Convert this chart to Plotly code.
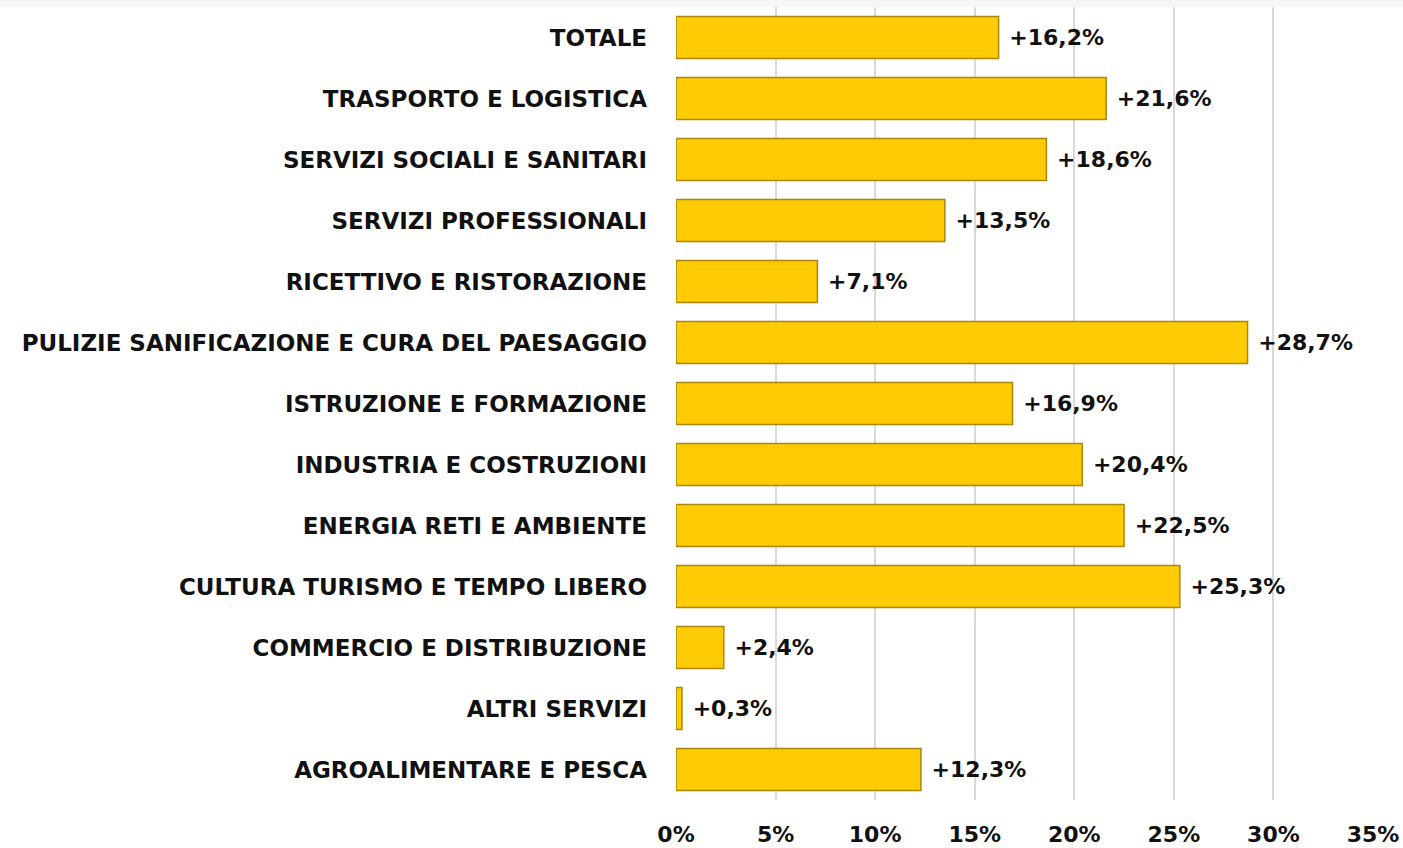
import plotly.graph_objects as go

# categories top to bottom as in the picture
categories = [
    "TOTALE",
    "TRASPORTO E LOGISTICA",
    "SERVIZI SOCIALI E SANITARI",
    "SERVIZI PROFESSIONALI",
    "RICETTIVO E RISTORAZIONE",
    "PULIZIE SANIFICAZIONE E CURA DEL PAESAGGIO",
    "ISTRUZIONE E FORMAZIONE",
    "INDUSTRIA E COSTRUZIONI",
    "ENERGIA RETI E AMBIENTE",
    "CULTURA TURISMO E TEMPO LIBERO",
    "COMMERCIO E DISTRIBUZIONE",
    "ALTRI SERVIZI",
    "AGROALIMENTARE E PESCA",
]
values = [16.2, 21.6, 18.6, 13.5, 7.1, 28.7, 16.9, 20.4, 22.5, 25.3, 2.4, 0.3, 12.3]
tick_vals = [0, 5, 10, 15, 20, 25, 30, 35]
tick_text = ["0%", "5%", "10%", "15%", "20%", "25%", "30%", "35%"]

font_family = "DejaVu Sans"

fig = go.Figure()
fig.add_trace(
    go.Bar(
        y=categories,
        x=values,
        orientation="h",
        width=0.69,
        marker=dict(color="#FFCB05", line=dict(color="#A8870A", width=1.5)),
        texttemplate=" +%{x:.1f}%",
        textposition="outside",
        cliponaxis=False,
        textfont=dict(family=font_family, size=22, color="#111111", weight="bold"),
    )
)

fig.update_layout(
    width=1403,
    height=848,
    separators=",.",
    paper_bgcolor="white",
    plot_bgcolor="white",
    margin=dict(l=676, r=30, t=7, b=48),
    showlegend=False,
    shapes=[
        dict(type="rect", xref="paper", yref="paper", x0=-1, x1=1.1, y0=1.0, y1=1.02,
             fillcolor="#F7F7F7", line=dict(width=0), layer="below"),
    ],
)
fig.update_xaxes(
    range=[0, 35],
    tickvals=tick_vals,
    ticktext=tick_text,
    showgrid=True,
    gridcolor="#D9D9D9",
    gridwidth=2,
    zeroline=False,
    automargin=False,
    ticklabelstandoff=19,
    tickfont=dict(family=font_family, size=22, color="#111111", weight="bold"),
)
fig.update_yaxes(
    autorange="reversed",
    showgrid=False,
    automargin=False,
    ticklabelstandoff=28,
    tickfont=dict(family=font_family, size=23, color="#111111", weight="bold"),
)

fig.write_html(
    "out.html",
    config={"displayModeBar": False},
    post_script="document.body.style.margin='0';",
)
